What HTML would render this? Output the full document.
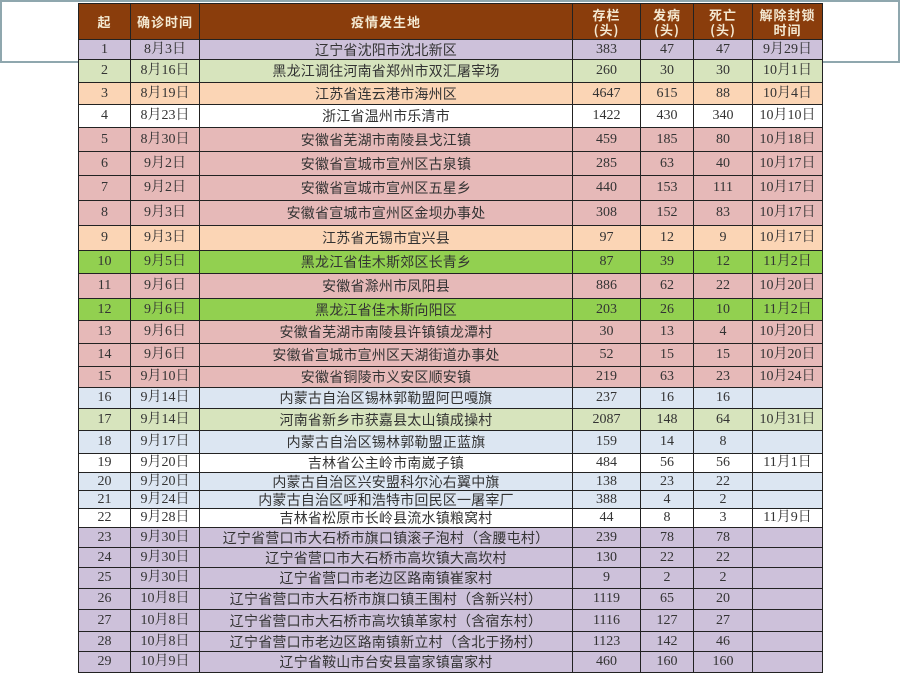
<!DOCTYPE html>
<html><head><meta charset="utf-8"><style>
body{margin:0;width:900px;height:675px;background:#fff;position:relative;overflow:hidden;font-family:"Liberation Serif","Noto Serif CJK SC","Noto Sans CJK SC",serif;}
.frame{position:absolute;left:0;top:0;width:896px;height:59px;border:2px solid #8fa7ae;}
table{position:absolute;left:78px;top:3px;border-collapse:collapse;table-layout:fixed;}
td{border:1.5px solid #222;padding:0;text-align:center;font-size:14px;color:#333;white-space:nowrap;overflow:hidden;line-height:1;}
th{border:1.5px solid #222;background:#8a3d0c;color:#f4e9d2;font-size:13px;font-weight:bold;line-height:15px;font-family:"Noto Sans CJK SC",sans-serif;letter-spacing:1px;}
td.p{font-family:"Noto Sans CJK SC","Liberation Sans",sans-serif;font-size:14px;letter-spacing:0.2px;}
.pu td{background:#cdc1da}.lg td{background:#d7e4bd}.pe td{background:#fbd5b5}.wh td{background:#fff}
.pk td{background:#e6b9b8}.gr td{background:#92d050}.lb td{background:#dce6f2}
</style></head><body>
<div class="frame"></div>
<table>
<colgroup><col style="width:52px"><col style="width:69px"><col style="width:373px"><col style="width:68px"><col style="width:53px"><col style="width:59px"><col style="width:70px"></colgroup>
<tr style="height:36px"><th>起</th><th>确诊时间</th><th>疫情发生地</th><th>存栏<br>(头)</th><th>发病<br>(头)</th><th>死亡<br>(头)</th><th>解除封锁<br>时间</th></tr>
<tr class="pu" style="height:20px"><td>1</td><td>8月3日</td><td class="p">辽宁省沈阳市沈北新区</td><td>383</td><td>47</td><td>47</td><td>9月29日</td></tr>
<tr class="lg" style="height:23px"><td>2</td><td>8月16日</td><td class="p">黑龙江调往河南省郑州市双汇屠宰场</td><td>260</td><td>30</td><td>30</td><td>10月1日</td></tr>
<tr class="pe" style="height:22px"><td>3</td><td>8月19日</td><td class="p">江苏省连云港市海州区</td><td>4647</td><td>615</td><td>88</td><td>10月4日</td></tr>
<tr class="wh" style="height:23px"><td>4</td><td>8月23日</td><td class="p">浙江省温州市乐清市</td><td>1422</td><td>430</td><td>340</td><td>10月10日</td></tr>
<tr class="pk" style="height:24px"><td>5</td><td>8月30日</td><td class="p">安徽省芜湖市南陵县戈江镇</td><td>459</td><td>185</td><td>80</td><td>10月18日</td></tr>
<tr class="pk" style="height:24px"><td>6</td><td>9月2日</td><td class="p">安徽省宣城市宣州区古泉镇</td><td>285</td><td>63</td><td>40</td><td>10月17日</td></tr>
<tr class="pk" style="height:25px"><td>7</td><td>9月2日</td><td class="p">安徽省宣城市宣州区五星乡</td><td>440</td><td>153</td><td>111</td><td>10月17日</td></tr>
<tr class="pk" style="height:25px"><td>8</td><td>9月3日</td><td class="p">安徽省宣城市宣州区金坝办事处</td><td>308</td><td>152</td><td>83</td><td>10月17日</td></tr>
<tr class="pe" style="height:25px"><td>9</td><td>9月3日</td><td class="p">江苏省无锡市宜兴县</td><td>97</td><td>12</td><td>9</td><td>10月17日</td></tr>
<tr class="gr" style="height:23px"><td>10</td><td>9月5日</td><td class="p">黑龙江省佳木斯郊区长青乡</td><td>87</td><td>39</td><td>12</td><td>11月2日</td></tr>
<tr class="pk" style="height:25px"><td>11</td><td>9月6日</td><td class="p">安徽省滁州市凤阳县</td><td>886</td><td>62</td><td>22</td><td>10月20日</td></tr>
<tr class="gr" style="height:22px"><td>12</td><td>9月6日</td><td class="p">黑龙江省佳木斯向阳区</td><td>203</td><td>26</td><td>10</td><td>11月2日</td></tr>
<tr class="pk" style="height:23px"><td>13</td><td>9月6日</td><td class="p">安徽省芜湖市南陵县许镇镇龙潭村</td><td>30</td><td>13</td><td>4</td><td>10月20日</td></tr>
<tr class="pk" style="height:23px"><td>14</td><td>9月6日</td><td class="p">安徽省宣城市宣州区天湖街道办事处</td><td>52</td><td>15</td><td>15</td><td>10月20日</td></tr>
<tr class="pk" style="height:21px"><td>15</td><td>9月10日</td><td class="p">安徽省铜陵市义安区顺安镇</td><td>219</td><td>63</td><td>23</td><td>10月24日</td></tr>
<tr class="lb" style="height:21px"><td>16</td><td>9月14日</td><td class="p">内蒙古自治区锡林郭勒盟阿巴嘎旗</td><td>237</td><td>16</td><td>16</td><td></td></tr>
<tr class="lg" style="height:22px"><td>17</td><td>9月14日</td><td class="p">河南省新乡市获嘉县太山镇成操村</td><td>2087</td><td>148</td><td>64</td><td>10月31日</td></tr>
<tr class="lb" style="height:23px"><td>18</td><td>9月17日</td><td class="p">内蒙古自治区锡林郭勒盟正蓝旗</td><td>159</td><td>14</td><td>8</td><td></td></tr>
<tr class="wh" style="height:19px"><td>19</td><td>9月20日</td><td class="p">吉林省公主岭市南崴子镇</td><td>484</td><td>56</td><td>56</td><td>11月1日</td></tr>
<tr class="lb" style="height:18px"><td>20</td><td>9月20日</td><td class="p">内蒙古自治区兴安盟科尔沁右翼中旗</td><td>138</td><td>23</td><td>22</td><td></td></tr>
<tr class="lb" style="height:18px"><td>21</td><td>9月24日</td><td class="p">内蒙古自治区呼和浩特市回民区一屠宰厂</td><td>388</td><td>4</td><td>2</td><td></td></tr>
<tr class="wh" style="height:19px"><td>22</td><td>9月28日</td><td class="p">吉林省松原市长岭县流水镇粮窝村</td><td>44</td><td>8</td><td>3</td><td>11月9日</td></tr>
<tr class="pu" style="height:20px"><td>23</td><td>9月30日</td><td class="p">辽宁省营口市大石桥市旗口镇滚子泡村（含腰屯村）</td><td>239</td><td>78</td><td>78</td><td></td></tr>
<tr class="pu" style="height:20px"><td>24</td><td>9月30日</td><td class="p">辽宁省营口市大石桥市高坎镇大高坎村</td><td>130</td><td>22</td><td>22</td><td></td></tr>
<tr class="pu" style="height:21px"><td>25</td><td>9月30日</td><td class="p">辽宁省营口市老边区路南镇崔家村</td><td>9</td><td>2</td><td>2</td><td></td></tr>
<tr class="pu" style="height:21px"><td>26</td><td>10月8日</td><td class="p">辽宁省营口市大石桥市旗口镇王围村（含新兴村）</td><td>1119</td><td>65</td><td>20</td><td></td></tr>
<tr class="pu" style="height:22px"><td>27</td><td>10月8日</td><td class="p">辽宁省营口市大石桥市高坎镇革家村（含宿东村）</td><td>1116</td><td>127</td><td>27</td><td></td></tr>
<tr class="pu" style="height:20px"><td>28</td><td>10月8日</td><td class="p">辽宁省营口市老边区路南镇新立村（含北于扬村）</td><td>1123</td><td>142</td><td>46</td><td></td></tr>
<tr class="pu" style="height:21px"><td>29</td><td>10月9日</td><td class="p">辽宁省鞍山市台安县富家镇富家村</td><td>460</td><td>160</td><td>160</td><td></td></tr>
</table>
</body></html>
